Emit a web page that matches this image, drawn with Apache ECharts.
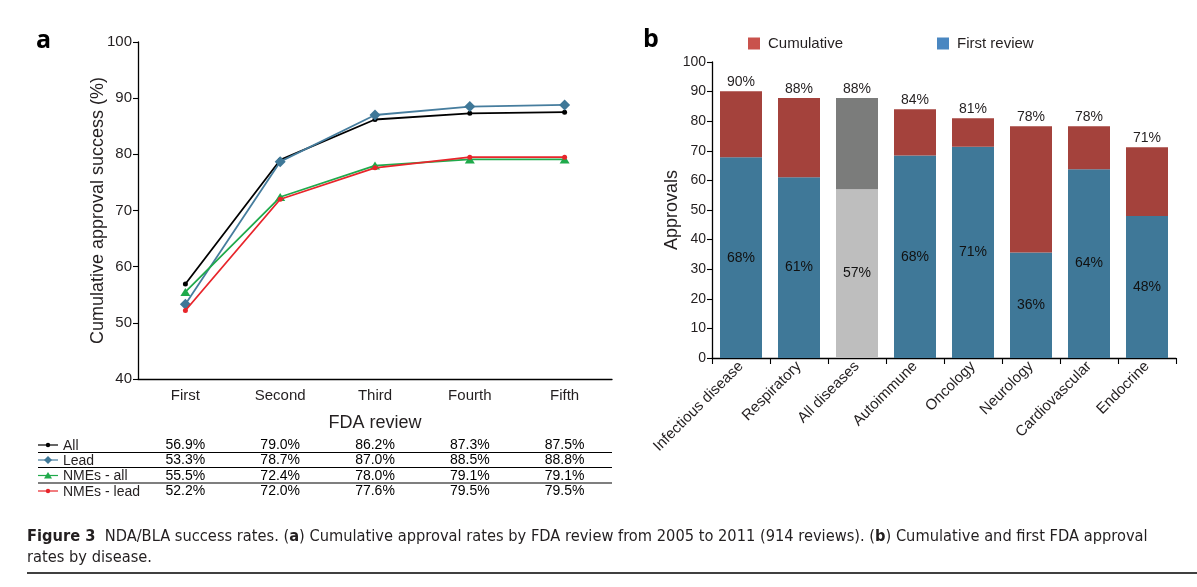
<!DOCTYPE html>
<html><head><meta charset="utf-8">
<script src="https://cdn.jsdelivr.net/npm/echarts@6/dist/echarts.min.js"></script>
<style>html,body{margin:0;padding:0;background:#fff}#c{width:1197px;height:587px}</style>
</head><body><div id="c"></div>
<script>
// ---- Panel a data ----
const reviews = ['First', 'Second', 'Third', 'Fourth', 'Fifth'];
const rowNames = ['All', 'Lead', 'NMEs - all', 'NMEs - lead'];
const allRates = [56.9, 79.0, 86.2, 87.3, 87.5];
const leadRates = [53.3, 78.7, 87.0, 88.5, 88.8];
const nmeAllRates = [55.5, 72.4, 78.0, 79.1, 79.1];
const nmeLeadRates = [52.2, 72.0, 77.6, 79.5, 79.5];
// ---- Panel b data ----
const diseases = ['Infectious disease', 'Respiratory', 'All diseases', 'Autoimmune', 'Oncology', 'Neurology', 'Cardiovascular', 'Endocrine'];
const cumulative = [90.1, 87.8, 87.8, 84.0, 81.0, 78.3, 78.3, 71.2];
const firstReview = [67.8, 61.1, 57.0, 68.4, 71.4, 35.6, 63.8, 48.0];
const captionText = '{b|Figure 3}  NDA/BLA success rates. ({b|a}) Cumulative approval rates by FDA review from 2005 to 2011 (914 reviews). ({b|b}) Cumulative and first FDA approval\nrates by disease.';

const FONT = '"Liberation Sans", Arial, sans-serif';
const CAPFONT = '"Liberation Sans Narrow", "DejaVu Sans Condensed", sans-serif';
const TXT = '#231f20';
const lineColors = ['#000000', '#467d9e', '#1faa4b', '#e8252b'];
const rowData = [allRates, leadRates, nmeAllRates, nmeLeadRates];
const symbols = ['circle', 'diamond', 'triangle', 'circle'];
const symSizes = [5, 11, [10, 8], 5];

const chart = echarts.init(document.getElementById('c'), null, {renderer: 'canvas'});

const lineSeries = rowNames.map((n, i) => ({
  name: n, type: 'line', xAxisIndex: 0, yAxisIndex: 0,
  data: rowData[i], symbol: symbols[i], symbolSize: symSizes[i], showSymbol: true,
  lineStyle: {color: lineColors[i], width: 1.8},
  itemStyle: {color: i === 1 ? '#3f7898' : lineColors[i]},
  emphasis: {disabled: true}, z: 2 + i
}));

const tableData = [];
rowData.forEach((arr, r) => arr.forEach((v, c) => tableData.push([c, r, v])));

const tableSeries = {
  type: 'scatter', xAxisIndex: 1, yAxisIndex: 1, data: tableData,
  symbolSize: 1, itemStyle: {color: '#ffffff', opacity: 1},
  label: {show: true, position: [0.5, 0], align: 'center', verticalAlign: 'middle',
    formatter: p => p.value[2].toFixed(1) + '%',
    fontFamily: FONT, fontSize: 14, color: '#000', opacity: 1, textBorderWidth: 0},
  emphasis: {disabled: true}, silent: true
};

const barFirst = {
  name: 'First review', type: 'bar', stack: 'b', xAxisIndex: 2, yAxisIndex: 2, barWidth: 42,
  data: firstReview.map((v, i) => ({value: v, itemStyle: {color: i === 2 ? '#bebebe' : '#3f7898'}})),
  label: {show: true, position: 'inside', formatter: p => Math.round(p.value) + '%',
    fontFamily: FONT, fontSize: 14, color: '#111'},
  emphasis: {disabled: true}
};
const barCum = {
  name: 'Cumulative', type: 'bar', stack: 'b', xAxisIndex: 2, yAxisIndex: 2, barWidth: 42,
  data: cumulative.map((v, i) => ({value: +(v - firstReview[i]).toFixed(2), itemStyle: {color: i === 2 ? '#7b7c7b' : '#a4423c'}})),
  label: {show: true, position: 'top', distance: 2, formatter: p => Math.round(cumulative[p.dataIndex]) + '%',
    fontFamily: FONT, fontSize: 14, color: TXT},
  emphasis: {disabled: true}
};

// table decorations
const rowY = [445, 460, 475.5, 491];
const sepY = [452.5, 467.5, 483];
const graphics = [];
sepY.forEach(y => graphics.push({type: 'line', shape: {x1: 38, y1: y, x2: 612, y2: y}, style: {stroke: '#000', lineWidth: 1.2}}));
rowY.forEach((y, i) => {
  graphics.push({type: 'line', shape: {x1: 38, y1: y, x2: 58, y2: y}, style: {stroke: lineColors[i], lineWidth: 1.2}});
  if (symbols[i] === 'circle') graphics.push({type: 'circle', shape: {cx: 48, cy: y, r: 2.2}, style: {fill: lineColors[i]}});
  if (symbols[i] === 'diamond') graphics.push({type: 'polygon', shape: {points: [[48, y - 4], [52, y], [48, y + 4], [44, y]]}, style: {fill: '#3f7898'}});
  if (symbols[i] === 'triangle') graphics.push({type: 'polygon', shape: {points: [[48, y - 3.5], [52, y + 3], [44, y + 3]]}, style: {fill: lineColors[i]}});
});
graphics.push({type: 'text', left: 36, top: 28, style: {text: 'a', font: 'bold 25px "Open Sans", "Liberation Sans", sans-serif', fill: '#000'}});
graphics.push({type: 'text', left: 643, top: 27, style: {text: 'b', font: 'bold 25px "Open Sans", "Liberation Sans", sans-serif', fill: '#000'}});
graphics.push({type: 'text', left: 27, top: 526, style: {text: captionText,
  font: '16.3px ' + CAPFONT, fill: '#231f20', lineHeight: 21,
  rich: {b: {fontWeight: 'bold', fontSize: 16.3, fontFamily: CAPFONT, fill: '#231f20'}}}});
graphics.push({type: 'line', shape: {x1: 27, y1: 573, x2: 1197, y2: 573}, style: {stroke: '#000', lineWidth: 1.3}});

const axisLbl = {fontFamily: FONT, color: TXT};

chart.setOption({
  animation: false,
  backgroundColor: '#fff',
  textStyle: {fontFamily: FONT},
  grid: [
    {left: 138, top: 42, width: 474, height: 337},
    {left: 138, top: 438, width: 474, height: 61.5},
    {left: 712, top: 62, width: 464, height: 296}
  ],
  xAxis: [
    {type: 'category', gridIndex: 0, data: reviews, boundaryGap: true,
      axisLine: {lineStyle: {color: '#000', width: 1.3}}, axisTick: {show: false},
      axisLabel: Object.assign({fontSize: 15, margin: 9}, axisLbl),
      name: 'FDA review', nameLocation: 'middle', nameGap: 35, nameMoveOverlap: false,
      nameTextStyle: {fontSize: 18, color: TXT, fontFamily: FONT}},
    {type: 'category', gridIndex: 1, data: reviews, show: false},
    {type: 'category', gridIndex: 2, data: diseases,
      axisLine: {lineStyle: {color: '#000', width: 1.3}},
      axisTick: {show: true, length: 6, lineStyle: {color: '#000', width: 1.1}},
      axisLabel: Object.assign({fontSize: 15, margin: 6, rotate: 45, interval: 0}, axisLbl)}
  ],
  yAxis: [
    {type: 'value', gridIndex: 0, min: 40, max: 100, interval: 10,
      axisLine: {show: true, lineStyle: {color: '#000', width: 1.3}},
      axisTick: {show: true, length: 5, lineStyle: {color: '#000', width: 1.1}},
      splitLine: {show: false},
      axisLabel: Object.assign({fontSize: 15, margin: 6}, axisLbl),
      name: 'Cumulative approval success (%)', nameLocation: 'middle', nameGap: 31, nameMoveOverlap: false,
      nameTextStyle: {fontSize: 18, color: TXT, fontFamily: FONT}},
    {type: 'category', gridIndex: 1, data: rowNames, inverse: true,
      axisLine: {show: false}, axisTick: {show: false}, splitLine: {show: false},
      axisLabel: Object.assign({fontSize: 14, margin: 75, align: 'left', interval: 0}, axisLbl)},
    {type: 'value', gridIndex: 2, min: 0, max: 100, interval: 10,
      axisLine: {show: true, lineStyle: {color: '#000', width: 1.3}},
      axisTick: {show: true, length: 5, lineStyle: {color: '#000', width: 1.1}},
      splitLine: {show: false},
      axisLabel: Object.assign({fontSize: 14, margin: 6}, axisLbl),
      name: 'Approvals', nameLocation: 'middle', nameGap: 31, nameMoveOverlap: false,
      nameTextStyle: {fontSize: 18, color: TXT, fontFamily: FONT}}
  ],
  legend: [
    {data: [{name: 'Cumulative', itemStyle: {color: '#c9524c'}}], left: 748, top: 36, padding: 0,
      itemWidth: 12, itemHeight: 12, icon: 'rect', selectedMode: false,
      textStyle: {fontFamily: FONT, fontSize: 15, color: TXT, padding: [0, 0, 0, 3]}},
    {data: [{name: 'First review', itemStyle: {color: '#4a87c1'}}], left: 937, top: 36, padding: 0,
      itemWidth: 12, itemHeight: 12, icon: 'rect', selectedMode: false,
      textStyle: {fontFamily: FONT, fontSize: 15, color: TXT, padding: [0, 0, 0, 3]}}
  ],
  series: lineSeries.concat([tableSeries, barFirst, barCum]),
  graphic: graphics
});
</script></body></html>
